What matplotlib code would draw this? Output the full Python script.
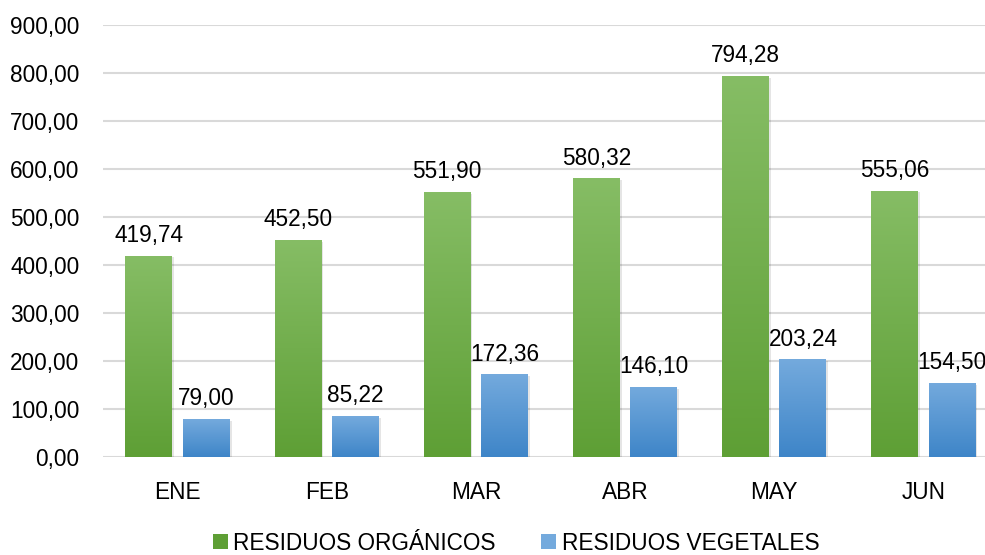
import matplotlib
matplotlib.use('Agg')
import matplotlib.pyplot as plt
import numpy as np
from matplotlib.colors import LinearSegmentedColormap
from matplotlib.patches import Patch

plt.rcParams['font.family'] = ['Liberation Sans Narrow', 'Liberation Sans', 'DejaVu Sans']

# data
months = ['ENE', 'FEB', 'MAR', 'ABR', 'MAY', 'JUN']
organicos = [419.74, 452.50, 551.90, 580.32, 794.28, 555.06]
vegetales = [79.00, 85.22, 172.36, 146.10, 203.24, 154.50]
series_names = ['RESIDUOS ORGÁNICOS', 'RESIDUOS VEGETALES']

green_top, green_bot = '#86BD65', '#5E9F35'
blue_top, blue_bot = '#74AADD', '#3E85C8'
FS = 16.3

def fmt(v):
    return f'{v:,.2f}'.replace(',', 'X').replace('.', ',').replace('X', '.')

fig = plt.figure(figsize=(9.85, 5.55), dpi=100)
ax = fig.add_axes([103/985, 1 - 457/555, 1 - 103/985, (457 - 25)/555])

x = np.arange(len(months))
w = 0.315
off = 0.035 + w/2

def gradient_bars(xs, vals, top, bot):
    cmap = LinearSegmentedColormap.from_list('g', [bot, top])
    bars = ax.bar(xs, vals, w, color='none', edgecolor='none', zorder=3)
    grad = np.linspace(0, 1, 256).reshape(-1, 1)
    for b in bars:
        x0, y0 = b.get_x(), b.get_y()
        bw, bh = b.get_width(), b.get_height()
        # soft shadow
        ax.bar(x0 + bw/2 + 0.012, bh, bw, bottom=-4, color='#000000', alpha=0.10, zorder=2)
        im = ax.imshow(grad, cmap=cmap, aspect='auto', origin='lower',
                       extent=[x0, x0 + bw, y0, y0 + bh], zorder=3)
        im.set_clip_path(b)
    return bars

b1 = gradient_bars(x - off, organicos, green_top, green_bot)
b2 = gradient_bars(x + off, vegetales, blue_top, blue_bot)

for bars, vals in [(b1, organicos), (b2, vegetales)]:
    for b, v in zip(bars, vals):
        ax.text(b.get_x() + b.get_width()/2, v + 18, fmt(v), ha='center', va='bottom',
                fontsize=FS, color='black', zorder=5)

ax.set_xlim(-0.5, 5.5 - 13/149.2)
ax.set_ylim(0, 900)
ax.set_yticks(np.arange(0, 901, 100))
ax.set_yticklabels([fmt(v) for v in np.arange(0, 901, 100)], fontsize=FS)
ax.set_xticks(x)
ax.set_xticklabels(months, fontsize=FS)
ax.tick_params(axis='both', length=0)
ax.tick_params(axis='x', pad=17)
ax.tick_params(axis='y', pad=17)
ax.yaxis.grid(True, color='#d9d9d9', linewidth=1.5, zorder=0)
ax.set_axisbelow(True)
for s in ax.spines.values():
    s.set_visible(False)

handles = [Patch(facecolor=green_bot, edgecolor='none'), Patch(facecolor=blue_top, edgecolor='none')]
fig.legend(handles, series_names, loc='center', bbox_to_anchor=(0.524, 1 - 543/555),
           ncol=2, frameon=False, fontsize=FS, handlelength=0.65, handleheight=0.65,
           handletextpad=0.25, columnspacing=2.0)

fig.savefig('out.png', dpi=100)
